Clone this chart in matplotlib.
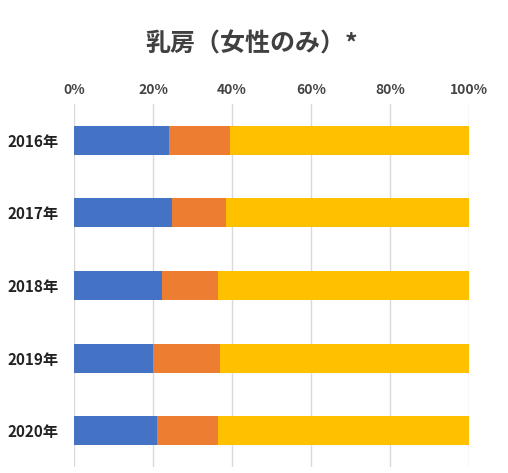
import numpy as np
import matplotlib.pyplot as plt

plt.rcParams['font.family'] = ['Noto Sans CJK JP', 'DejaVu Sans']

# 年別の構成比（%）
years = ['2016年', '2017年', '2018年', '2019年', '2020年']
part_a = [24.0, 24.7, 22.4, 20.1, 20.9]
part_b = [15.6, 13.9, 14.0, 16.9, 15.5]
part_c = [60.4, 61.4, 63.6, 63.0, 63.6]

colors = ['#4472C4', '#ED7D31', '#FFC000']

fig = plt.figure(figsize=(5.08, 4.73), dpi=100)
ax = fig.add_axes([74 / 508, 1 - 467 / 473, 395 / 508, 363 / 473])

y = np.arange(len(years))
left = np.zeros(len(years))
for vals, c in zip([part_a, part_b, part_c], colors):
    ax.barh(y, vals, left=left, height=0.4, color=c, zorder=2)
    left += np.array(vals)

ax.set_xlim(0, 100)
ax.set_ylim(len(years) - 0.5, -0.5)
ax.set_yticks(y)
ax.set_yticklabels(years, fontsize=11, fontweight='bold', color='#222222')
ax.set_xticks(np.arange(0, 101, 20))
ax.set_xticklabels([f'{v}%' for v in range(0, 101, 20)], fontsize=10,
                   fontweight='bold', color='#444444')
ax.xaxis.tick_top()
ax.tick_params(axis='both', length=0)
ax.tick_params(axis='x', pad=5)
ax.tick_params(axis='y', pad=11)
ax.grid(axis='x', color='#D9D9D9', linewidth=1, zorder=0)
for s in ax.spines.values():
    s.set_visible(False)

fig.text(252 / 508, 1 - 44 / 473, '乳房（女性のみ）*', ha='center', va='center',
         fontsize=18, fontweight='bold', color='#404040')

fig.savefig('out.png', dpi=100)
